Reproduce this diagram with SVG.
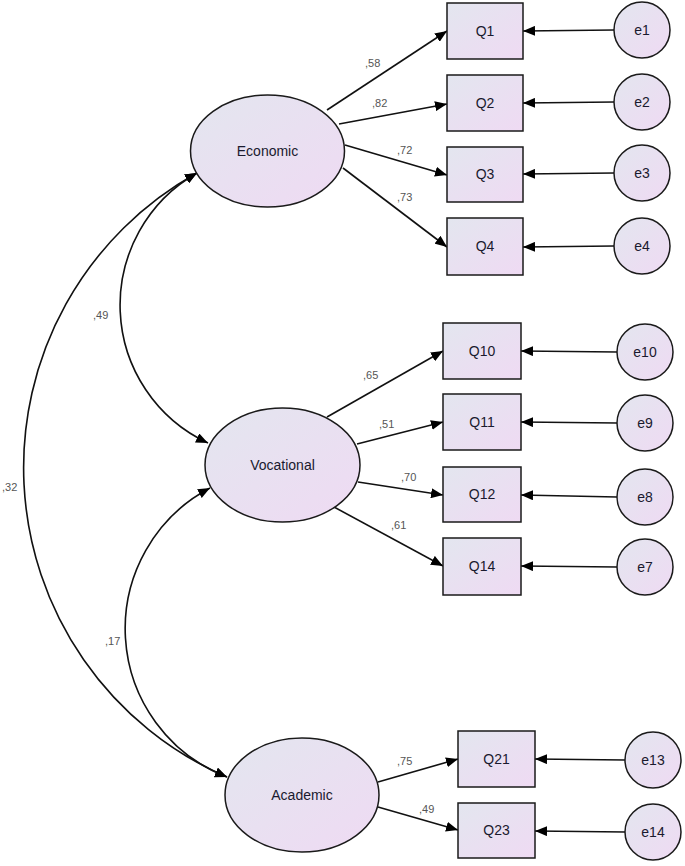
<svg xmlns="http://www.w3.org/2000/svg" width="685" height="866" viewBox="0 0 685 866">
<style>
.n{stroke:#1a1a1a;stroke-width:1.5;fill:url(#g)}
.t{font-family:"Liberation Sans",Arial,sans-serif;font-size:14px;fill:#1a1a2e;text-anchor:middle}
.l{font-family:"Liberation Sans",Arial,sans-serif;font-size:11px;fill:#555}
.c{stroke:#111;stroke-width:1.6;fill:none}
</style>
<defs>
<linearGradient id="g" x1="0" y1="0" x2="1" y2="1">
<stop offset="0" stop-color="#e3e6ef"/>
<stop offset="1" stop-color="#efdaf3"/>
</linearGradient>
<marker id="ah" viewBox="0 0 12 10" refX="12" refY="5" markerWidth="12" markerHeight="10" markerUnits="userSpaceOnUse" orient="auto-start-reverse">
<path d="M0,0 L12,5 L0,10 z" fill="#000"/>
</marker>
</defs>
<g id="connectors">
<path class="c" d="M197,173 A337,337 0 0 0 227,777" marker-start="url(#ah)" marker-end="url(#ah)"/>
<path class="c" d="M197,173 A152,152 0 0 0 208,443" marker-start="url(#ah)" marker-end="url(#ah)"/>
<path class="c" d="M210,488 A159,159 0 0 0 227,777" marker-start="url(#ah)" marker-end="url(#ah)"/>
<line class="c" x1="327" y1="110" x2="447" y2="31" marker-end="url(#ah)"/>
<line class="c" x1="339" y1="124" x2="447" y2="104" marker-end="url(#ah)"/>
<line class="c" x1="345" y1="145" x2="447" y2="175" marker-end="url(#ah)"/>
<line class="c" x1="343" y1="168" x2="447" y2="247" marker-end="url(#ah)"/>
<line class="c" x1="327" y1="417" x2="443" y2="351" marker-end="url(#ah)"/>
<line class="c" x1="357" y1="444" x2="443" y2="422" marker-end="url(#ah)"/>
<line class="c" x1="358" y1="482" x2="443" y2="495" marker-end="url(#ah)"/>
<line class="c" x1="334" y1="507" x2="443" y2="566" marker-end="url(#ah)"/>
<line class="c" x1="378" y1="782" x2="458" y2="759" marker-end="url(#ah)"/>
<line class="c" x1="378" y1="807" x2="458" y2="830" marker-end="url(#ah)"/>
<line class="c" x1="614" y1="30" x2="523" y2="31" marker-end="url(#ah)"/>
<line class="c" x1="614" y1="102" x2="523" y2="103" marker-end="url(#ah)"/>
<line class="c" x1="614" y1="173" x2="523" y2="174" marker-end="url(#ah)"/>
<line class="c" x1="614" y1="246" x2="523" y2="247" marker-end="url(#ah)"/>
<line class="c" x1="617" y1="352" x2="521" y2="351" marker-end="url(#ah)"/>
<line class="c" x1="617" y1="423" x2="521" y2="422" marker-end="url(#ah)"/>
<line class="c" x1="617" y1="497" x2="521" y2="495" marker-end="url(#ah)"/>
<line class="c" x1="617" y1="567" x2="521" y2="566" marker-end="url(#ah)"/>
<line class="c" x1="625" y1="760" x2="535" y2="759" marker-end="url(#ah)"/>
<line class="c" x1="625" y1="832" x2="535" y2="831" marker-end="url(#ah)"/>
<text class="l" x="365" y="67">,58</text>
<text class="l" x="372" y="107">,82</text>
<text class="l" x="397" y="154">,72</text>
<text class="l" x="397" y="201">,73</text>
<text class="l" x="363" y="379">,65</text>
<text class="l" x="379" y="428">,51</text>
<text class="l" x="401" y="481">,70</text>
<text class="l" x="391" y="529">,61</text>
<text class="l" x="397" y="765">,75</text>
<text class="l" x="419" y="813">,49</text>
<text class="l" x="93" y="319">,49</text>
<text class="l" x="2" y="491">,32</text>
<text class="l" x="105" y="645">,17</text>
</g>
<g id="Economic"><ellipse class="n" cx="267.5" cy="151" rx="77" ry="56"/><text class="t" x="267.5" y="156">Economic</text></g>
<g id="Vocational"><ellipse class="n" cx="282.5" cy="465" rx="77.5" ry="57"/><text class="t" x="282.5" y="470">Vocational</text></g>
<g id="Academic"><ellipse class="n" cx="302" cy="795" rx="77" ry="57"/><text class="t" x="302" y="800">Academic</text></g>
<g id="Q1"><rect class="n" x="447" y="3" width="76" height="56"/><text class="t" x="485" y="36">Q1</text></g>
<g id="Q2"><rect class="n" x="447" y="75" width="76" height="56"/><text class="t" x="485" y="108">Q2</text></g>
<g id="Q3"><rect class="n" x="447" y="147" width="76" height="55"/><text class="t" x="485" y="179">Q3</text></g>
<g id="Q4"><rect class="n" x="447" y="218" width="76" height="57"/><text class="t" x="485" y="251">Q4</text></g>
<g id="Q10"><rect class="n" x="443" y="323" width="78" height="56"/><text class="t" x="482" y="356">Q10</text></g>
<g id="Q11"><rect class="n" x="443" y="394" width="78" height="56"/><text class="t" x="482" y="427">Q11</text></g>
<g id="Q12"><rect class="n" x="443" y="467" width="78" height="55"/><text class="t" x="482" y="499">Q12</text></g>
<g id="Q14"><rect class="n" x="443" y="538" width="78" height="57"/><text class="t" x="482" y="571">Q14</text></g>
<g id="Q21"><rect class="n" x="458" y="731" width="77" height="56"/><text class="t" x="496.5" y="764">Q21</text></g>
<g id="Q23"><rect class="n" x="458" y="803" width="77" height="55"/><text class="t" x="496.5" y="835">Q23</text></g>
<g id="e1"><circle class="n" cx="642" cy="30" r="28"/><text class="t" x="642" y="35">e1</text></g>
<g id="e2"><circle class="n" cx="642" cy="102" r="28"/><text class="t" x="642" y="107">e2</text></g>
<g id="e3"><circle class="n" cx="642" cy="173" r="28"/><text class="t" x="642" y="178">e3</text></g>
<g id="e4"><circle class="n" cx="642" cy="246" r="28"/><text class="t" x="642" y="251">e4</text></g>
<g id="e10"><circle class="n" cx="645" cy="352" r="28"/><text class="t" x="645" y="357">e10</text></g>
<g id="e9"><circle class="n" cx="645" cy="423" r="28"/><text class="t" x="645" y="428">e9</text></g>
<g id="e8"><circle class="n" cx="645" cy="497" r="28"/><text class="t" x="645" y="502">e8</text></g>
<g id="e7"><circle class="n" cx="645" cy="567" r="28"/><text class="t" x="645" y="572">e7</text></g>
<g id="e13"><circle class="n" cx="653" cy="760" r="28"/><text class="t" x="653" y="765">e13</text></g>
<g id="e14"><circle class="n" cx="653" cy="832" r="28"/><text class="t" x="653" y="837">e14</text></g>
</svg>
